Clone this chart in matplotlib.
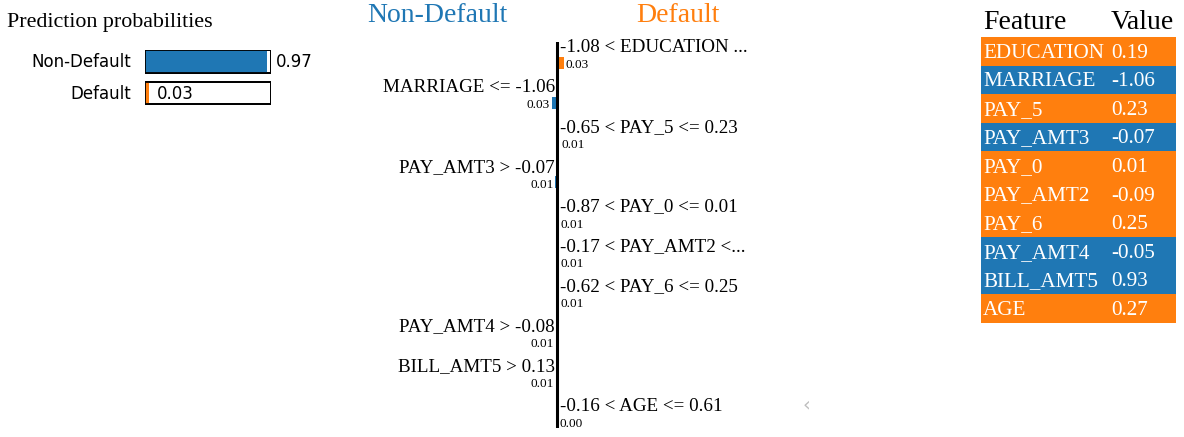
import matplotlib
matplotlib.use("Agg")
import matplotlib.pyplot as plt

# ---------------- data ----------------
classes = ["Non-Default", "Default"]
probas = [0.97, 0.03]

conditions = [
    "-1.08 < EDUCATION ...",
    "MARRIAGE <= -1.06",
    "-0.65 < PAY_5 <= 0.23",
    "PAY_AMT3 > -0.07",
    "-0.87 < PAY_0 <= 0.01",
    "-0.17 < PAY_AMT2 <...",
    "-0.62 < PAY_6 <= 0.25",
    "PAY_AMT4 > -0.08",
    "BILL_AMT5 > 0.13",
    "-0.16 < AGE <= 0.61",
]
weights = [0.033, -0.026, 0.010, -0.008, 0.007, 0.006, 0.006, -0.006, -0.006, 0.004]

table_features = ["EDUCATION", "MARRIAGE", "PAY_5", "PAY_AMT3", "PAY_0",
                  "PAY_AMT2", "PAY_6", "PAY_AMT4", "BILL_AMT5", "AGE"]
table_values = ["0.19", "-1.06", "0.23", "-0.07", "0.01",
                "-0.09", "0.25", "-0.05", "0.93", "0.27"]

BLUE = "#1f77b4"
ORANGE = "#ff7f0e"
class_colors = [BLUE, ORANGE]
SERIF = "Liberation Serif"
SANS = "DejaVu Sans"

W, H = 1184, 437
fig = plt.figure(figsize=(W / 100, H / 100), dpi=100)
fig.patch.set_facecolor("white")


def fx(px):
    return px / W


def fy(py):
    return 1 - py / H


def axes_px(left, top, right, bottom):
    return fig.add_axes([fx(left), fy(bottom), (right - left) / W, (bottom - top) / H])


# ---------------- prediction probabilities ----------------
fig.text(fx(7), fy(23), "Prediction probabilities", family=SERIF, fontsize=15.8,
         ha="left", va="center")
axp = axes_px(145, 50, 271, 104.5)
axp.set_xlim(0, 1)
axp.set_ylim(1.365, -0.365)
ypos = list(range(len(classes)))
axp.barh(ypos, [1.0] * len(classes), height=0.71, color="white",
         edgecolor="black", linewidth=1.3)
axp.barh(ypos, probas, height=0.71, color=class_colors, edgecolor="none")
axp.barh(ypos, [1.0] * len(classes), height=0.71, color="none",
         edgecolor="black", linewidth=1.3)
for i, (c, p) in enumerate(zip(classes, probas)):
    axp.text(-0.11, i + 0.03, c, ha="right", va="center", family=SANS, fontsize=12)
    axp.text(p + 0.067, i + 0.03, f"{p:.2f}", ha="left", va="center", family=SANS,
             fontsize=12)
axp.axis("off")

# ---------------- explanation ----------------
fig.text(fx(437), fy(15), classes[0], color=BLUE, family=SERIF, fontsize=20,
         ha="center", va="center")
fig.text(fx(678), fy(15), classes[1], color=ORANGE, family=SERIF, fontsize=20,
         ha="center", va="center")

axe = axes_px(357, 42, 757, 428)
axe.set_xlim(-1.0, 1.0)
axe.set_ylim(9.171, -0.528)
rows = list(range(len(weights)))
bar_colors = [ORANGE if w > 0 else BLUE for w in weights]
axe.barh(rows, weights, height=0.30, color=bar_colors, edgecolor="none")
axe.axvline(0, color="black", linewidth=2.2)
for i, (cond, w) in enumerate(zip(conditions, weights)):
    if w > 0:
        axe.text(0.015, i - 0.38, cond, ha="left", va="center", family=SERIF,
                 fontsize=13.7)
        axe.text(w + 0.01, i + 0.06, f"{abs(w):.2f}", ha="left", va="center",
                 family=SERIF, fontsize=9.5)
    else:
        axe.text(-0.01, i - 0.38, cond, ha="right", va="center", family=SERIF,
                 fontsize=13.7)
        axe.text(w - 0.01, i + 0.06, f"{abs(w):.2f}", ha="right", va="center",
                 family=SERIF, fontsize=9.5)
axe.axis("off")

fig.text(fx(806), fy(405), "\u2039", color="#bdbdbd", family=SANS, fontsize=14,
         ha="center", va="center")

# ---------------- feature / value table ----------------
axt = axes_px(981, 37, 1176, 323)
n = len(table_features)
axt.set_xlim(0, 1)
axt.set_ylim(n - 0.5, -0.5)
axt.barh(list(range(n)), [1.0] * n, height=1.0, left=0,
         color=bar_colors, edgecolor="none")
axt.text(0.01, -1.0, "Feature", ha="left", va="center", family=SERIF, fontsize=20)
axt.text(0.667, -1.0, "Value", ha="left", va="center", family=SERIF, fontsize=20)
for i, (f, v) in enumerate(zip(table_features, table_values)):
    axt.text(0.01, i + 0.06, f, ha="left", va="center", color="white",
             family=SERIF, fontsize=15.2)
    axt.text(0.667, i + 0.06, v, ha="left", va="center", color="white",
             family=SERIF, fontsize=15.2)
axt.axis("off")

fig.savefig("out.png", dpi=100, facecolor="white")
